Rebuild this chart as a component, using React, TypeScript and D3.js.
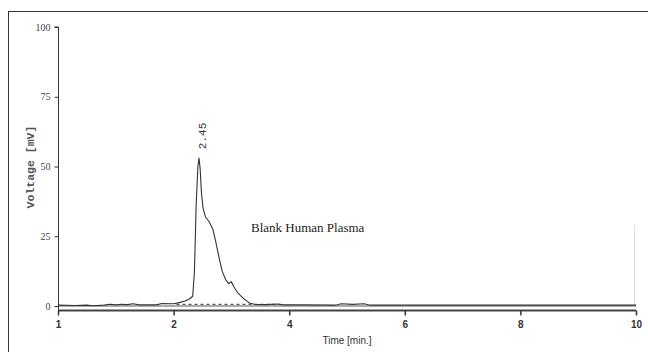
import { useEffect, useRef } from 'react';
import * as d3 from 'd3';

// chromatogram trace: [time (min), voltage (mV)]
const trace: [number, number][] = [
  [0.0, 0.3], [0.3, 0.2], [0.5, 0.3], [0.6, 0.1], [0.8, 0.3], [0.9, 0.6], [1.0, 0.4],
  [1.1, 0.6], [1.2, 0.5], [1.3, 0.8], [1.4, 0.4], [1.7, 0.4], [1.8, 0.9], [2.0, 0.8],
  [2.1, 1.2], [2.2, 1.8], [2.28, 2.6], [2.33, 3.5], [2.36, 12], [2.39, 36], [2.42, 50],
  [2.44, 53], [2.46, 49], [2.48, 41], [2.51, 35], [2.55, 32], [2.62, 30], [2.68, 27.5],
  [2.73, 23], [2.78, 18], [2.84, 12.5], [2.9, 9.5], [2.95, 8], [3.0, 8.7], [3.04, 7],
  [3.1, 5], [3.18, 3.3], [3.25, 2], [3.32, 1], [3.4, 0.6], [3.6, 0.5], [3.8, 0.7],
  [3.9, 0.4], [4.2, 0.4], [4.8, 0.3], [4.9, 0.8], [5.1, 0.6], [5.3, 0.8], [5.4, 0.3],
  [6.0, 0.3], [10.0, 0.3],
];

const integrationBaseline: [number, number][] = [[2.05, 0.6], [3.85, 0.6]];

const yTicks = [0, 25, 50, 75, 100];
const xTicks = [0, 2, 4, 6, 8, 10];
const xTickLabels = ['1', '2', '4', '6', '8', '10'];

const peakTime = 2.45;
const peakValue = 53;
const peakLabel = '2.45';
const sampleLabel = 'Blank Human Plasma';

export default function App() {
  const svgRef = useRef<SVGSVGElement>(null);

  useEffect(() => {
    if (!svgRef.current) return;
    const width = 648;
    const height = 352;
    const svg = d3.select(svgRef.current);
    svg.selectAll('*').remove();
    svg.attr('width', width).attr('height', height);

    svg.append('rect').attr('width', width).attr('height', height).attr('fill', '#fff');

    // outer frame (runs off the right and bottom edges)
    svg
      .append('rect')
      .attr('x', 8.5)
      .attr('y', 11.5)
      .attr('width', 700)
      .attr('height', 400)
      .attr('fill', 'none')
      .attr('stroke', '#333');

    const x = d3.scaleLinear().domain([0, 10]).range([58, 636]);
    const y = d3.scaleLinear().domain([0, 100]).range([306, 27]);
    const axisY = 310.5;

    // zero line
    svg
      .append('line')
      .attr('x1', x(0))
      .attr('x2', x(10))
      .attr('y1', y(0))
      .attr('y2', y(0))
      .attr('stroke', '#aaa')
      .attr('stroke-width', 2);

    // end marker at right
    svg
      .append('line')
      .attr('x1', 634.5)
      .attr('x2', 634.5)
      .attr('y1', y(29))
      .attr('y2', y(0))
      .attr('stroke', '#ddd');

    const line = d3
      .line<[number, number]>()
      .x((d) => x(d[0]))
      .y((d) => y(d[1]));

    svg
      .append('path')
      .datum(integrationBaseline)
      .attr('d', line)
      .attr('fill', 'none')
      .attr('stroke', '#333')
      .attr('stroke-width', 1)
      .attr('stroke-dasharray', '3,3');

    svg
      .append('path')
      .datum(trace)
      .attr('d', line)
      .attr('fill', 'none')
      .attr('stroke', '#333')
      .attr('stroke-width', 1.1)
      .attr('stroke-linejoin', 'round');

    // Y axis
    const yAxis = svg
      .append('g')
      .attr('transform', 'translate(58.5,0)')
      .call(d3.axisLeft(y).tickValues(yTicks).tickSize(4).tickPadding(4));
    yAxis.select('.domain').attr('d', `M-4,${y(100)}H0V${axisY + 2}`).attr('stroke', '#333');
    yAxis.selectAll('.tick line').attr('stroke', '#333');
    yAxis
      .selectAll('text')
      .attr('font-family', 'Liberation Serif, serif')
      .attr('font-size', 10)
      .attr('fill', '#444');

    // X axis
    const xAxis = svg
      .append('g')
      .attr('transform', `translate(0,${axisY})`)
      .call(
        d3
          .axisBottom(x)
          .tickValues(xTicks)
          .tickSize(5)
          .tickPadding(5)
          .tickFormat((_, i) => xTickLabels[i]),
      );
    xAxis.select('.domain').attr('stroke', '#444').attr('stroke-width', 2).attr('d', `M${x(0)},0H${x(10)}`);
    xAxis.selectAll('.tick line').attr('stroke', '#333').attr('stroke-width', 1.5);
    xAxis
      .selectAll('text')
      .attr('font-family', 'Liberation Sans, Arial, sans-serif')
      .attr('font-weight', 'bold')
      .attr('font-size', 10)
      .attr('fill', '#333');

    svg
      .append('text')
      .attr('x', 347)
      .attr('y', 344)
      .attr('text-anchor', 'middle')
      .attr('font-family', 'Liberation Sans, Arial, sans-serif')
      .attr('font-size', 10)
      .attr('fill', '#333')
      .text('Time [min.]');

    svg
      .append('text')
      .attr('transform', 'translate(34,167) rotate(-90)')
      .attr('text-anchor', 'middle')
      .attr('font-family', 'Liberation Mono, monospace')
      .attr('font-weight', 'bold')
      .attr('font-size', 11.5)
      .attr('fill', '#555')
      .text('Voltage [mV]');

    // peak annotation
    svg
      .append('text')
      .attr('transform', `translate(${x(peakTime) + 6},${y(peakValue) - 9}) rotate(-90)`)
      .attr('font-family', 'Liberation Mono, monospace')
      .attr('font-size', 11)
      .attr('fill', '#333')
      .text(peakLabel);

    svg
      .append('text')
      .attr('x', 251)
      .attr('y', 232)
      .attr('font-family', 'Liberation Serif, Times New Roman, serif')
      .attr('font-size', 13)
      .attr('fill', '#222')
      .text(sampleLabel);
  }, []);

  return (
    <div style={{ position: 'fixed', left: 0, top: 0 }}>
      <svg ref={svgRef} style={{ display: 'block' }} />
    </div>
  );
}
